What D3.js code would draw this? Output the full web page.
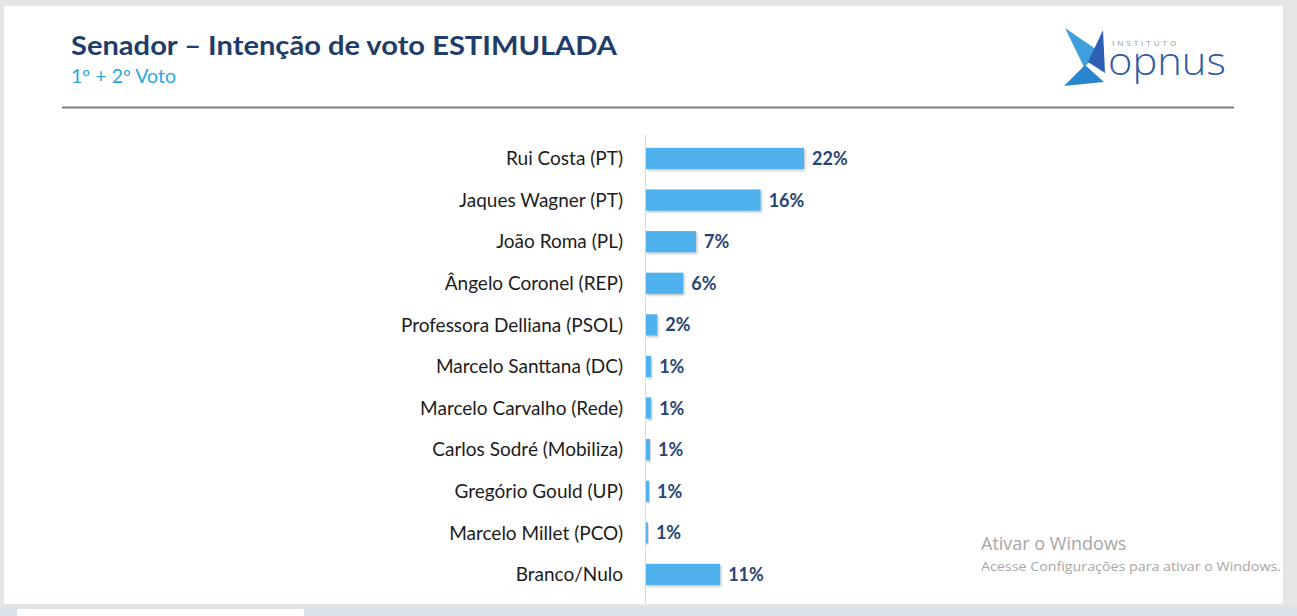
<!DOCTYPE html>
<html>
<head>
<meta charset="utf-8">
<script src="https://cdn.jsdelivr.net/npm/d3@7"></script>
<style>
  html, body { margin: 0; padding: 0; background: #e6e6e6; }
  svg { display: block; }
</style>
</head>
<body>
<svg id="chart"></svg>
<script>
const WIDTH = 1297;
const HEIGHT = 616;
const BAR_COLOR = '#50b2ee';
const VALUE_COLOR = '#274574';
const LABEL_COLOR = '#1c1c1c';

const title = 'Senador – Intenção de voto ESTIMULADA';
const subtitle = '1º + 2º Voto';

// candidates top to bottom
const candidates = [
    'Rui Costa (PT)',
    'Jaques Wagner (PT)',
    'João Roma (PL)',
    'Ângelo Coronel (REP)',
    'Professora Delliana (PSOL)',
    'Marcelo Santtana (DC)',
    'Marcelo Carvalho (Rede)',
    'Carlos Sodré (Mobiliza)',
    'Gregório Gould (UP)',
    'Marcelo Millet (PCO)',
    'Branco/Nulo'
];
// bar lengths (percent)
const votes = [22, 16, 7.05, 5.3, 1.7, 0.85, 0.85, 0.7, 0.55, 0.4, 10.4];
// printed labels
const voteLabels = ['22%', '16%', '7%', '6%', '2%', '1%', '1%', '1%', '1%', '1%', '11%'];

const data = candidates.map((name, i) => ({ name, value: votes[i], label: voteLabels[i] }));

var svg = d3.select('#chart')
    .attr('width', WIDTH)
    .attr('height', HEIGHT);

// window / slide frame
svg.append('rect')
    .attr('width', WIDTH).attr('height', HEIGHT)
    .attr('fill', '#e6e6e6');
svg.append('rect')
    .attr('x', 0).attr('y', 606).attr('width', WIDTH).attr('height', 10)
    .attr('fill', '#dce3e8');
svg.append('rect')
    .attr('x', 17).attr('y', 609).attr('width', 287).attr('height', 7)
    .attr('fill', '#ffffff');
svg.append('rect')
    .attr('x', 4).attr('y', 6).attr('width', 1279).attr('height', 598)
    .attr('fill', '#ffffff');

var defs = svg.append('defs');
var shadow = defs.append('filter').attr('id', 'shadow')
    .attr('x', '-20%').attr('y', '-20%').attr('width', '140%').attr('height', '160%');
shadow.append('feDropShadow')
    .attr('dx', 1.2).attr('dy', 1.5).attr('stdDeviation', 0.9)
    .attr('flood-color', '#000').attr('flood-opacity', 0.25);

/* Title */
svg.append('text')
    .attr('x', 71).attr('y', 55)
    .attr('font-family', 'Lato, "Open Sans", sans-serif')
    .attr('font-weight', 700)
    .attr('font-size', 26)
    .attr('fill', '#1f3d6a')
    .attr('textLength', 546)
    .attr('lengthAdjust', 'spacingAndGlyphs')
    .text(title);

svg.append('text')
    .attr('x', 71).attr('y', 83)
    .attr('font-family', 'Lato, "Open Sans", sans-serif')
    .attr('font-size', 18.5)
    .attr('fill', '#2aa8dc')
    .attr('textLength', 105)
    .attr('lengthAdjust', 'spacingAndGlyphs')
    .text(subtitle);

svg.append('line')
    .attr('x1', 62).attr('x2', 1234)
    .attr('y1', 107.5).attr('y2', 107.5)
    .attr('stroke', '#7f7f7f')
    .attr('stroke-width', 2);

/* Logo */
var logo = svg.append('g').attr('transform', 'translate(1060,26)');
logo.append('polygon')
    .attr('points', '5,2 40,26 24,41')
    .attr('fill', '#3f9fdc');
logo.append('polygon')
    .attr('points', '43,4 28,36 45,47')
    .attr('fill', '#2f5fb2');
logo.append('polygon')
    .attr('points', '25,39 4,60 44,56')
    .attr('fill', '#2a86cc');
logo.append('text')
    .attr('x', 52).attr('y', 20)
    .attr('font-family', '"Open Sans", sans-serif')
    .attr('font-size', 8)
    .attr('letter-spacing', 3)
    .attr('fill', '#8796ad')
    .text('INSTITUTO');
logo.append('text')
    .attr('transform', 'translate(48,49) scale(1.9)')
    .attr('font-family', '"Open Sans", sans-serif')
    .attr('font-weight', 300)
    .attr('font-size', 20)
    .attr('fill', '#2f5ca8')
    .attr('textLength', 62)
    .attr('lengthAdjust', 'spacingAndGlyphs')
    .text('opnus');

/* Chart */
const X0 = 645;
var x = d3.scaleLinear()
    .domain([0, 22])
    .range([X0, X0 + 159]);

var y = d3.scaleBand()
    .domain(candidates)
    .range([137.7, 595.3])
    .paddingInner(0.49)
    .paddingOuter(0.245);

svg.append('line')
    .attr('x1', X0 + 0.5).attr('x2', X0 + 0.5)
    .attr('y1', 135).attr('y2', 604)
    .attr('stroke', '#d9d9d9')
    .attr('stroke-width', 1);

svg.append('g')
    .selectAll('rect')
    .data(data)
    .join('rect')
    .attr('x', X0 + 1)
    .attr('y', d => y(d.name))
    .attr('width', d => x(d.value) - X0 - 1)
    .attr('height', y.bandwidth())
    .attr('fill', BAR_COLOR)
    .attr('filter', 'url(#shadow)');

svg.append('g')
    .selectAll('text')
    .data(data)
    .join('text')
    .attr('x', 623)
    .attr('y', d => y(d.name) + y.bandwidth() / 2)
    .attr('dy', '0.35em')
    .attr('text-anchor', 'end')
    .attr('font-family', 'Lato, "Open Sans", sans-serif')
    .attr('font-size', 19)
    .attr('fill', LABEL_COLOR)
    .text(d => d.name);

svg.append('g')
    .selectAll('text')
    .data(data)
    .join('text')
    .attr('x', d => x(d.value) + 8)
    .attr('y', d => y(d.name) + y.bandwidth() / 2)
    .attr('dy', '0.36em')
    .attr('font-family', 'Lato, "Open Sans", sans-serif')
    .attr('font-weight', 700)
    .attr('font-size', 18)
    .attr('fill', VALUE_COLOR)
    .text(d => d.label);

/* Windows watermark */
svg.append('text')
    .attr('x', 981).attr('y', 550)
    .attr('font-family', '"Open Sans", sans-serif')
    .attr('font-size', 18)
    .attr('fill', '#a6a6a6')
    .text('Ativar o Windows');
svg.append('text')
    .attr('x', 981).attr('y', 571)
    .attr('font-family', '"Open Sans", sans-serif')
    .attr('font-size', 13)
    .attr('fill', '#a6a6a6')
    .attr('textLength', 300)
    .attr('lengthAdjust', 'spacingAndGlyphs')
    .text('Acesse Configurações para ativar o Windows.');
</script>
</body>
</html>
